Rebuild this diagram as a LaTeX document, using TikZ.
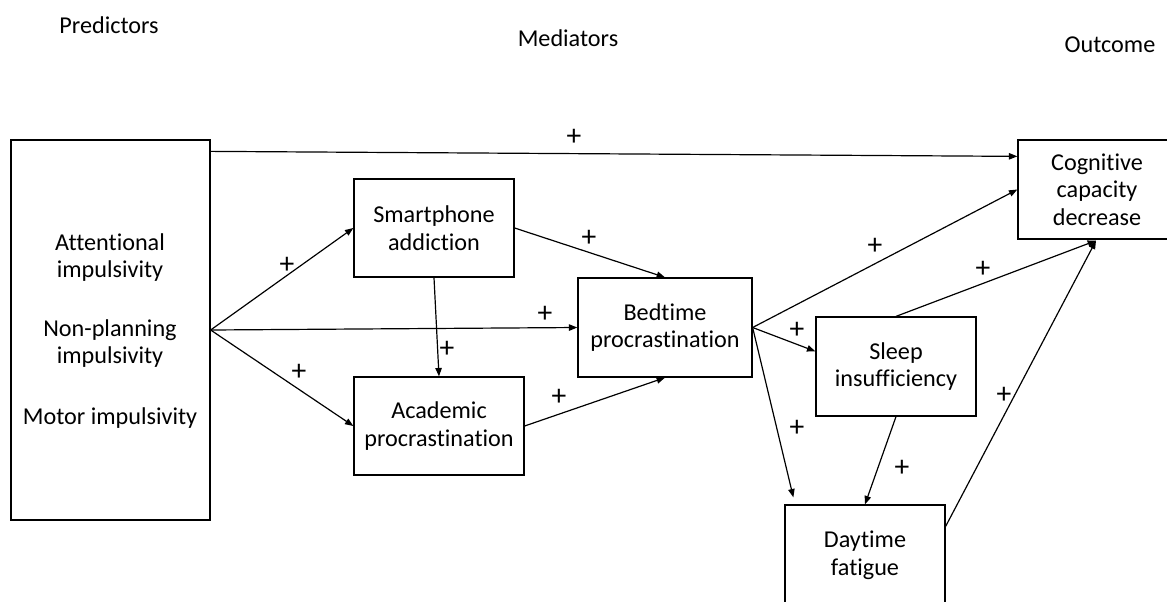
\documentclass[tikz,border=0pt]{standalone}
\usepackage{fontspec}
\setmainfont{Carlito}[Ligatures=NoCommon]
\usetikzlibrary{arrows.meta,calc}
\def\pxu{0.025cm}
\begin{document}
\begin{tikzpicture}[x=0.025cm,y=-0.025cm,
  every node/.style={font=\fontsize{17.2}{19.6}\selectfont},
  blk/.style={draw,line width=0.9pt,inner sep=0pt,align=center},
  arr/.style={-{Triangle[length=2.1mm,width=1.6mm]},line width=0.85pt},
  pl/.style={inner sep=0pt,font=\fontsize{21}{22}\selectfont}]
\useasboundingbox (0,0) rectangle (1167,601);
% headings
\node (hpred) at (109,25) {Predictors};
\node (hmed) at (568,38) {Mediators};
\node (hout) at (1110,45) {Outcome};
% boxes
\node [blk,minimum width=199*\pxu,minimum height=380*\pxu] (pred) at (110.5,330) {};
\node (tatt) at (110,257.5) [align=center] {Attentional\\impulsivity};
\node (tnon) at (110,343.5) [align=center] {Non-planning\\impulsivity};
\node (tmot) at (110,418) {Motor impulsivity};
\node [blk,minimum width=160*\pxu,minimum height=98*\pxu] (smart) at (434,228) {Smartphone\\addiction};
\node [blk,minimum width=170*\pxu,minimum height=98*\pxu] (acad) at (439,426) {Academic\\procrastination};
\node [blk,minimum width=174*\pxu,minimum height=99*\pxu] (bed) at (665,327.5) {Bedtime\\procrastination};
\node [blk,minimum width=160*\pxu,minimum height=99*\pxu] (sleep) at (896,366.5) {Sleep\\insufficiency};
\node [blk,minimum width=160*\pxu,minimum height=100*\pxu] (day) at (865,555) {Daytime\\fatigue};
\node [blk,minimum width=158*\pxu,minimum height=99*\pxu] (cog) at (1097,189.5) {Cognitive\\capacity\\decrease};
% connectors
\coordinate (cogb) at ($(cog.south)+(-1,1)$);
\coordinate (dayend) at ($(day.north west)+(9,-7)$);
\draw [arr] ($(pred.north east)+(0,12)$) -- ($(cog.north west)+(0,17)$);
\draw [arr] (pred.east) -- (smart.west);
\draw [arr] (pred.east) -- (bed.west);
\draw [arr] (pred.east) -- (acad.west);
\draw [arr] (smart.south) -- (acad.north);
\draw [arr] (smart.east) -- (bed.north);
\draw [arr] (acad.east) -- (bed.south);
\draw [arr] (bed.east) -- (cog.west);
\draw [arr] (bed.east) -- ($(sleep.north west)+(0,35)$);
\draw [arr] (bed.east) -- (dayend);
\draw [arr] (sleep.north) -- (cogb);
\draw [arr] (sleep.south) -- (day.north);
\draw [arr] ($(day.north east)+(0,22)$) -- (cogb);
% signs
\node [pl] (p1) at (574,137) {+};
\node [pl] (p2) at (287,265) {+};
\node [pl] (p3) at (545,314) {+};
\node [pl] (p4) at (299,372) {+};
\node [pl] (p5) at (447,349) {+};
\node [pl] (p6) at (589,238) {+};
\node [pl] (p7) at (559,397) {+};
\node [pl] (p8) at (875,246) {+};
\node [pl] (p9) at (797,330) {+};
\node [pl] (p10) at (797,428) {+};
\node [pl] (p11) at (983,269) {+};
\node [pl] (p12) at (902,468) {+};
\node [pl] (p13) at (1004,395) {+};
\end{tikzpicture}
\end{document}
